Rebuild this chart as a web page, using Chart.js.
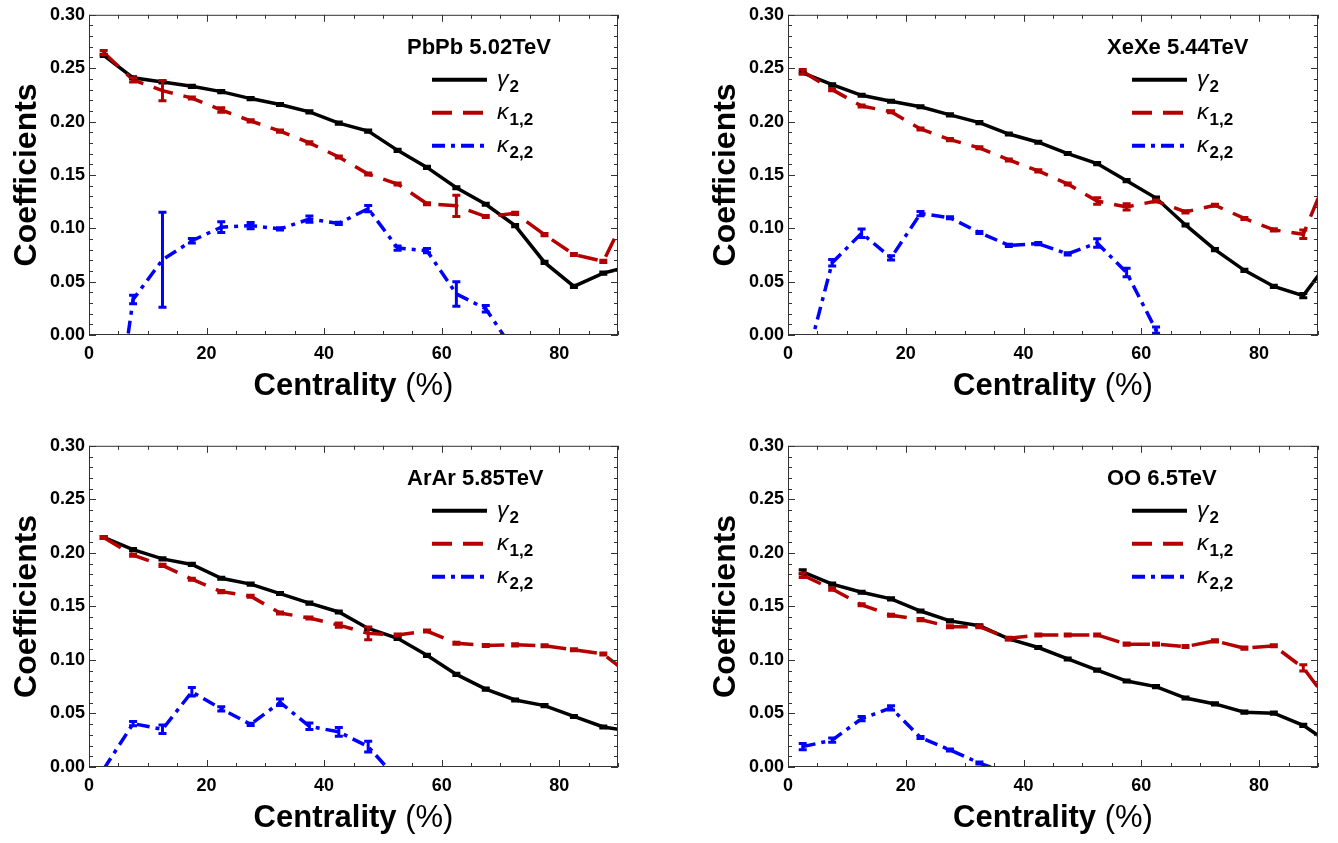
<!DOCTYPE html>
<html>
<head>
<meta charset="utf-8">
<script src="https://cdn.jsdelivr.net/npm/chart.js@4/dist/chart.umd.min.js"></script>
<style>
  html,body{margin:0;padding:0;background:#fff;}
  #wrap{position:relative;width:1338px;height:843px;background:#fff;overflow:hidden;}
  canvas{position:absolute;}
</style>
</head>
<body>
<div id="wrap">
  <canvas id="c0" width="669" height="421" style="left:0px;top:0px"></canvas>
  <canvas id="c1" width="639" height="421" style="left:699px;top:0px"></canvas>
  <canvas id="c2" width="669" height="422" style="left:0px;top:431px"></canvas>
  <canvas id="c3" width="639" height="422" style="left:699px;top:431px"></canvas>
</div>
<script>
// ---------------- DATA ----------------
const centrality = [2.5,7.5,12.5,17.5,22.5,27.5,32.5,37.5,42.5,47.5,52.5,57.5,62.5,67.5,72.5,77.5,82.5,87.5,92.5];
const xTicks = [0,20,40,60,80];
const yTicks = [0.00,0.05,0.10,0.15,0.20,0.25,0.30];
const seriesLabels = ['γ|2','κ|1,2','κ|2,2'];
const panelTitles = ['PbPb 5.02TeV','XeXe 5.44TeV','ArAr 5.85TeV','OO 6.5TeV'];
const xTitleBold = 'Centrality';
const xTitleRegular = ' (%)';
const yTitle = 'Coefficients';

// PbPb 5.02 TeV
const pbpbGamma2  = [0.262,0.241,0.237,0.233,0.228,0.2215,0.216,0.209,0.1985,0.191,0.173,0.157,0.138,0.1225,0.1025,0.068,0.0455,0.058,0.065];
const pbpbKappa12 = [0.2646,0.239,0.229,0.222,0.2108,0.2006,0.191,0.180,0.1668,0.1508,0.1415,0.123,0.121,0.111,0.114,0.094,0.0754,0.069,0.125];
const pbpbKappa22 = [-0.16,0.0332,0.0705,0.0883,0.101,0.1025,0.0994,0.1086,0.1046,0.1184,0.0815,0.079,0.0385,0.0246,-0.0164,null,null,null,null];
const pbpbGamma2Err  = [0.001,0.001,0.001,0.001,0.001,0.001,0.001,0.001,0.001,0.001,0.001,0.001,0.001,0.001,0.001,0.001,0.001,0.001,0];
const pbpbKappa12Err = [0.002,0.002,0.0095,0.001,0.002,0.001,0.001,0.001,0.001,0.001,0.001,0.001,0.010,0.001,0.001,0.001,0.001,0.001,0];
const pbpbKappa22Err = [0,0.004,0.0445,0.002,0.005,0.003,0.001,0.003,0.001,0.003,0.002,0.002,0.0115,0.003,0,0,0,0,0];

// XeXe 5.44 TeV
const xexeGamma2  = [0.2456,0.2345,0.2246,0.219,0.2139,0.2062,0.199,0.1883,0.1806,0.170,0.1606,0.1446,0.1283,0.1031,0.080,0.0606,0.0455,0.0369,0.074];
const xexeKappa12 = [0.2468,0.2299,0.2145,0.2092,0.193,0.183,0.1754,0.164,0.1538,0.1415,0.1255,0.120,0.1255,0.1154,0.1216,0.1092,0.0985,0.0944,0.161];
const xexeKappa22 = [-0.038,0.0677,0.0954,0.0723,0.1138,0.1099,0.096,0.084,0.0856,0.076,0.0862,0.0585,0.0046,-0.05,null,null,null,null,null];
const xexeGamma2Err  = [0.001,0.001,0.001,0.001,0.001,0.001,0.001,0.001,0.001,0.001,0.001,0.001,0.001,0.001,0.001,0.001,0.001,0.002,0];
const xexeKappa12Err = [0.002,0.001,0.001,0.001,0.001,0.001,0.001,0.001,0.001,0.001,0.003,0.003,0.001,0.001,0.001,0.001,0.001,0.004,0];
const xexeKappa22Err = [0,0.003,0.004,0.002,0.002,0.001,0.001,0.001,0.001,0.001,0.004,0.004,0.003,0,0,0,0,0,0];

// ArAr 5.85 TeV
const ararGamma2  = [0.2144,0.203,0.1944,0.1892,0.1763,0.1708,0.162,0.153,0.1448,0.1294,0.1202,0.1043,0.0865,0.0727,0.0626,0.0573,0.0472,0.0374,0.033];
const ararKappa12 = [0.2144,0.1978,0.1883,0.1754,0.1638,0.1595,0.1438,0.1392,0.1325,0.1248,0.1233,0.127,0.1156,0.1135,0.1141,0.1132,0.1095,0.1055,0.084];
const ararKappa22 = [-0.002,0.0405,0.0352,0.0702,0.0543,0.0398,0.0604,0.038,0.0328,0.019,-0.0116,null,null,null,null,null,null,null,null];
const ararGamma2Err  = [0.001,0.001,0.001,0.001,0.001,0.001,0.001,0.001,0.001,0.001,0.001,0.001,0.001,0.001,0.001,0.001,0.001,0.001,0];
const ararKappa12Err = [0.001,0.001,0.001,0.001,0.001,0.001,0.001,0.001,0.002,0.006,0.001,0.001,0.001,0.001,0.001,0.001,0.001,0.001,0];
const ararKappa22Err = [0,0.002,0.004,0.004,0.002,0.001,0.003,0.003,0.004,0.005,0,0,0,0,0,0,0,0,0];

// OO 6.5 TeV
const ooGamma2  = [0.1822,0.1708,0.1632,0.157,0.1457,0.1365,0.1319,0.1196,0.1116,0.1009,0.0905,0.0803,0.0751,0.0644,0.0589,0.0512,0.0503,0.0389,0.020];
const ooKappa12 = [0.1791,0.1662,0.1515,0.1417,0.1377,0.131,0.131,0.1202,0.1233,0.1233,0.1233,0.1147,0.1147,0.1125,0.1178,0.111,0.1132,0.0926,0.056];
const ooKappa22 = [0.019,0.0251,0.0451,0.0552,0.0276,0.0159,0.0037,-0.006,null,null,null,null,null,null,null,null,null,null,null];
const ooGamma2Err  = [0.002,0.001,0.001,0.001,0.001,0.001,0.001,0.001,0.001,0.001,0.001,0.001,0.001,0.001,0.001,0.001,0.001,0.001,0];
const ooKappa12Err = [0.002,0.001,0.001,0.001,0.001,0.001,0.001,0.001,0.001,0.001,0.001,0.001,0.001,0.001,0.001,0.001,0.001,0.003,0];
const ooKappa22Err = [0.003,0.002,0.002,0.002,0.001,0.001,0.001,0,0,0,0,0,0,0,0,0,0,0,0];

// ---------------- STYLE ----------------
const FONT = "'Liberation Sans', Arial, Helvetica, sans-serif";
const COLORS = ['#000000','#b40000','#0000ff'];
const DASHES = [[], [20,11], [13,6,4,6]];

function toXY(vals){ return centrality.map((x,i)=>({x:x, y:vals[i]})); }

const decoPlugin = {
  id:'deco',
  afterDatasetsDraw(chart, args, opts){
    const ctx = chart.ctx, a = chart.chartArea;
    const xs = chart.scales.x, ys = chart.scales.y;
    // error bars
    ctx.save();
    ctx.beginPath(); ctx.rect(a.left, a.top, a.right-a.left, a.bottom-a.top); ctx.clip();
    chart.data.datasets.forEach(ds=>{
      if(!ds.errors) return;
      ctx.strokeStyle = ds.borderColor; ctx.lineWidth = 3; ctx.setLineDash([]);
      ds.data.forEach((p,i)=>{
        const e = ds.errors[i];
        if(p.y===null || !e) return;
        const px = xs.getPixelForValue(p.x);
        const y1 = ys.getPixelForValue(p.y+e), y2 = ys.getPixelForValue(p.y-e);
        ctx.beginPath();
        ctx.moveTo(px, y1); ctx.lineTo(px, y2);
        ctx.moveTo(px-4, y1); ctx.lineTo(px+4, y1);
        ctx.moveTo(px-4, y2); ctx.lineTo(px+4, y2);
        ctx.stroke();
      });
    });
    ctx.restore();

    // frame and inward ticks
    ctx.save();
    ctx.strokeStyle = '#333'; ctx.lineWidth = 1; ctx.setLineDash([]);
    ctx.strokeRect(a.left+0.5, a.top+0.5, a.right-a.left-1, a.bottom-a.top-1);
    ctx.beginPath();
    for(let v=0; v<=90.001; v+=5){
      const px = Math.round(xs.getPixelForValue(v))+0.5;
      const L = (Math.abs(v%20)<1e-6) ? 7 : 4;
      ctx.moveTo(px, a.bottom); ctx.lineTo(px, a.bottom-L);
      ctx.moveTo(px, a.top); ctx.lineTo(px, a.top+L);
    }
    for(let k=0; k<=30; k++){
      const v = k/100;
      const py = Math.round(ys.getPixelForValue(v))+0.5;
      const L = (k%5===0) ? 7 : 4;
      ctx.moveTo(a.left, py); ctx.lineTo(a.left+L, py);
      ctx.moveTo(a.right, py); ctx.lineTo(a.right-L, py);
    }
    ctx.stroke();
    ctx.restore();

    // titles
    ctx.save();
    ctx.fillStyle = '#000';
    // y title
    ctx.save();
    ctx.translate(a.left-62, (a.top+a.bottom)/2);
    ctx.rotate(-Math.PI/2);
    ctx.font = "bold 32px "+FONT;
    ctx.textAlign='center'; ctx.textBaseline='middle';
    ctx.fillText(yTitle, 0, 0);
    ctx.restore();
    // x title
    ctx.font = "bold 31px "+FONT;
    const w1 = ctx.measureText(xTitleBold).width;
    ctx.font = "31px "+FONT;
    const w2 = ctx.measureText(xTitleRegular).width;
    let sx = (a.left+a.right)/2 - (w1+w2)/2;
    const ty = a.bottom + 51;
    ctx.textBaseline='middle'; ctx.textAlign='left';
    ctx.font = "bold 31px "+FONT; ctx.fillText(xTitleBold, sx, ty);
    ctx.font = "31px "+FONT; ctx.fillText(xTitleRegular, sx+w1, ty);

    // panel title
    ctx.font = "bold 22px "+FONT;
    ctx.textBaseline='middle'; ctx.textAlign='left';
    ctx.fillText(opts.title, a.right-211, a.top+33);

    // legend
    chart.data.datasets.forEach((ds,i)=>{
      const ly = a.top + 65 + i*33;
      ctx.save();
      ctx.strokeStyle = ds.borderColor; ctx.lineWidth = 4; ctx.setLineDash(DASHES[i]);
      ctx.beginPath(); ctx.moveTo(a.right-186, ly); ctx.lineTo(a.right-131, ly); ctx.stroke();
      ctx.restore();
      const parts = seriesLabels[i].split('|');
      ctx.textBaseline='alphabetic';
      ctx.font = "italic 23px "+FONT;
      const gx = a.right-121;
      ctx.fillText(parts[0], gx, ly+6);
      const gw = ctx.measureText(parts[0]).width;
      ctx.font = "bold 17px "+FONT;
      ctx.fillText(parts[1], gx+gw+1, ly+12);
    });
    ctx.restore();
  }
};

function makePanel(id, title, g, k1, k2, gE, k1E, k2E, yAxisW, padRight, xAxisH){
  const tickFont = {family:FONT, size:18, weight:'bold'};
  return new Chart(document.getElementById(id), {
    type:'line',
    data:{
      datasets:[
        {label:'γ2', data:toXY(g), errors:gE, borderColor:COLORS[0], borderWidth:3.5, borderDash:DASHES[0], pointRadius:0, tension:0, clip:0, order:2},
        {label:'κ1,2', data:toXY(k1), errors:k1E, borderColor:COLORS[1], borderWidth:3.5, borderDash:DASHES[1], pointRadius:0, tension:0, clip:0, order:1},
        {label:'κ2,2', data:toXY(k2), errors:k2E, borderColor:COLORS[2], borderWidth:3.5, borderDash:DASHES[2], pointRadius:0, tension:0, clip:0, order:0, spanGaps:false}
      ]
    },
    options:{
      responsive:false, animation:false, devicePixelRatio:1,
      layout:{padding:{top:10, right:padRight, left:0, bottom:0}},
      plugins:{legend:{display:false}, tooltip:{enabled:false}, deco:{title:title}},
      scales:{
        x:{type:'linear', min:0, max:90,
           ticks:{stepSize:20, includeBounds:false, color:'#000', font:tickFont, padding:8, maxRotation:0,
                  callback:(v)=> xTicks.includes(v) ? String(v) : ''},
           grid:{display:false, drawTicks:false}, border:{display:false},
           afterFit(s){ s.height = xAxisH; }},
        y:{type:'linear', min:0, max:0.3,
           ticks:{stepSize:0.05, includeBounds:false, color:'#000', font:tickFont, padding:4,
                  callback:(v)=>{ const t = yTicks.find(q=>Math.abs(q-v)<1e-9); return t===undefined ? '' : t.toFixed(2); }},
           grid:{display:false, drawTicks:false}, border:{display:false},
           afterFit(s){ s.width = yAxisW; }}
      }
    },
    plugins:[decoPlugin]
  });
}

makePanel('c0', panelTitles[0], pbpbGamma2, pbpbKappa12, pbpbKappa22, pbpbGamma2Err, pbpbKappa12Err, pbpbKappa22Err, 89, 51, 86);
makePanel('c1', panelTitles[1], xexeGamma2, xexeKappa12, xexeKappa22, xexeGamma2Err, xexeKappa12Err, xexeKappa22Err, 89, 20, 86);
makePanel('c2', panelTitles[2], ararGamma2, ararKappa12, ararKappa22, ararGamma2Err, ararKappa12Err, ararKappa22Err, 89, 51, 86);
makePanel('c3', panelTitles[3], ooGamma2, ooKappa12, ooKappa22, ooGamma2Err, ooKappa12Err, ooKappa22Err, 89, 20, 86);
</script>
</body>
</html>
